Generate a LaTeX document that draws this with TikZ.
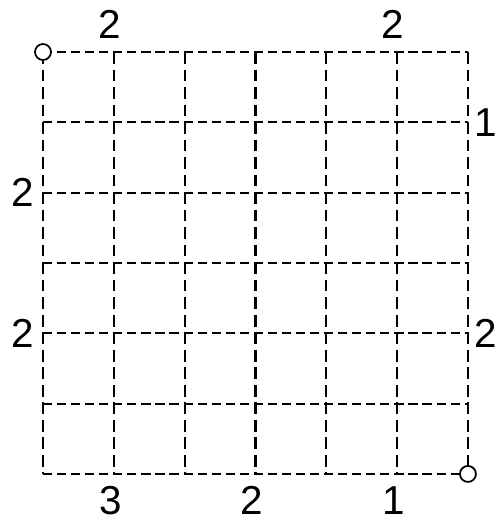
\documentclass[tikz,border=0pt]{standalone}
\usepackage{fontspec}
\setmainfont{Liberation Sans}
\begin{document}
\begin{tikzpicture}[x=0.02cm, y=-0.02cm, font=\fontsize{23}{25}\selectfont,
    hline/.style={line width=1.2pt, dash pattern=on 5.2pt off 2.8pt},
    vline/.style={line width=1.2pt, dash pattern=on 6.7pt off 3.27pt},
    endpoint/.style={circle, draw, line width=1pt, fill=white, inner sep=0pt, minimum size=0.32cm},
    clue/.style={inner sep=0pt}]
  \useasboundingbox (0,0) rectangle (500,522);
  \begin{scope}[shift={(43,52)}, x=1.4167cm, y=-1.4067cm]
    % dashed 6x6 grid
    \foreach \k in {0,...,6} {
      \draw[vline] (\k,0) -- (\k,6);
      \draw[hline] (0,\k) -- (6,\k);
    }
    % start and end points
    \node[endpoint] (start) at (0,0) {};
    \node[endpoint] (finish) at (6,6) {};
    % clues round the border
    \node[clue] (topA) at (0.94,-0.39) {2};
    \node[clue] (topB) at (4.94,-0.39) {2};
    \node[clue] (rightA) at (6.25,1) {1};
    \node[clue] (rightB) at (6.25,4) {2};
    \node[clue] (leftA) at (-0.28,2) {2};
    \node[clue] (leftB) at (-0.28,4) {2};
    \node[clue] (bottomA) at (0.95,6.38) {3};
    \node[clue] (bottomB) at (2.95,6.38) {2};
    \node[clue] (bottomC) at (4.95,6.38) {1};
  \end{scope}
\end{tikzpicture}
\end{document}
